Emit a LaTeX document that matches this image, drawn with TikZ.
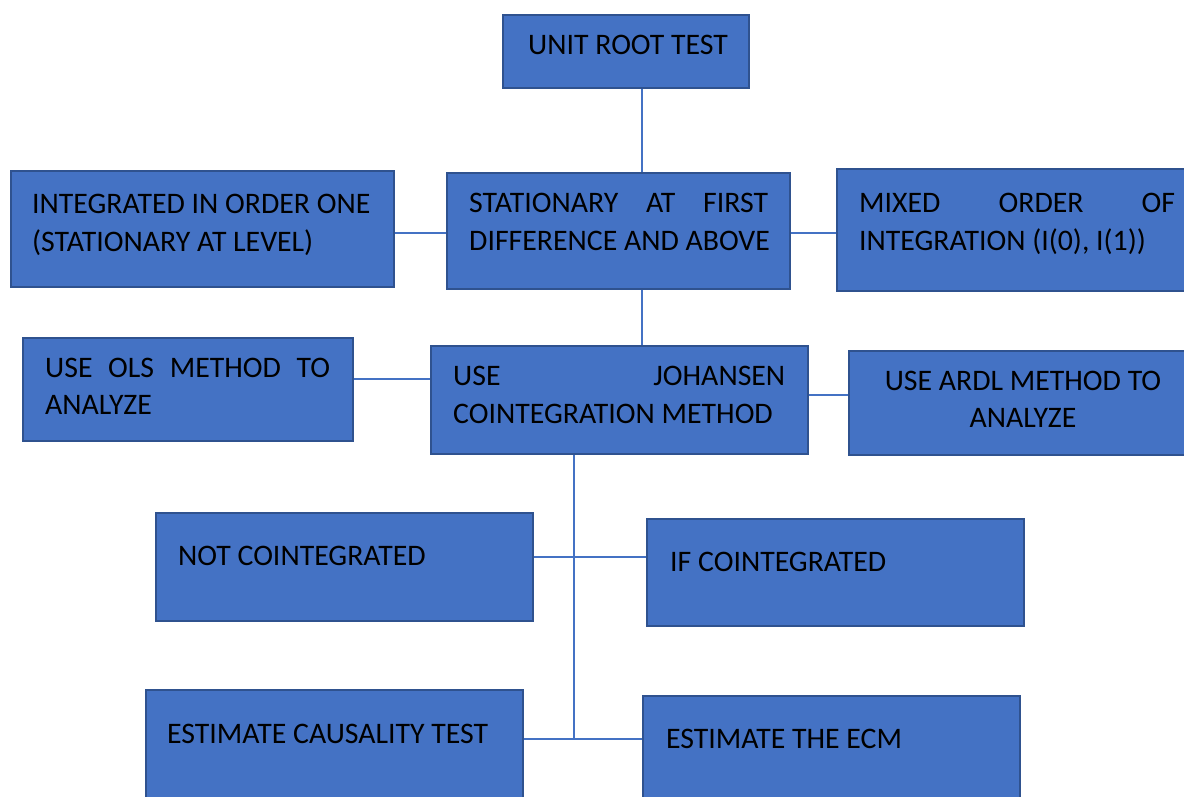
\documentclass[tikz,border=0pt]{standalone}
\usepackage{fontspec}
\setmainfont{Carlito}
\definecolor{boxfill}{HTML}{4472C4}
\definecolor{boxedge}{HTML}{2F528F}
\tikzset{
  box/.style={draw=boxedge, line width=2.2pt, fill=boxfill, inner sep=0pt, rectangle},
  conn/.style={draw=boxfill, line width=1.3pt},
  txt/.style={anchor=base west, inner sep=0pt, font=\fontsize{29.8}{38}\selectfont, text=black},
  ctxt/.style={txt, anchor=base},
}
\begin{document}
\begin{tikzpicture}[x=1pt,y=-1pt]
\useasboundingbox (0,0) rectangle (1184,796);
\clip (0,0) rectangle (1184,796);
% boxes
\node[box, minimum width=246pt, minimum height=73pt]  (root)  at (626,51.5) {};
\node[box, minimum width=343pt, minimum height=116pt] (stat)  at (618.5,231) {};
\node[box, minimum width=383pt, minimum height=116pt] (integ) at (202.5,229) {};
\node[box, minimum width=366pt, minimum height=122pt] (mixed) at (1020,230) {};
\node[box, minimum width=377pt, minimum height=108pt] (joh)   at (619.5,400) {};
\node[box, minimum width=330pt, minimum height=103pt] (ols)   at (188,389.5) {};
\node[box, minimum width=352pt, minimum height=104pt] (ardl)  at (1025,403) {};
\node[box, minimum width=377pt, minimum height=108pt] (notc)  at (344.5,567) {};
\node[box, minimum width=377pt, minimum height=107pt] (ifc)   at (835.5,572.5) {};
\node[box, minimum width=377pt, minimum height=110pt] (caus)  at (334.5,745) {};
\node[box, minimum width=377pt, minimum height=110pt] (ecm)   at (831.5,751) {};
% connectors
\draw[conn] ([xshift=16pt]root.south) -- ([xshift=16pt]root.south |- stat.north);
\draw[conn] ([xshift=23.5pt]stat.south) -- ([xshift=23.5pt]stat.south |- joh.north);
\draw[conn] ([yshift=-4pt]integ.east) -- ([yshift=-4pt]integ.east -| stat.west);
\draw[conn] ([yshift=-2pt]stat.east) -- ([yshift=-2pt]stat.east -| mixed.west);
\draw[conn] ([yshift=10.5pt]ols.east) -- ([yshift=10.5pt]ols.east -| joh.west);
\draw[conn] ([yshift=5pt]joh.east) -- ([yshift=5pt]joh.east -| ardl.west);
\coordinate (busend) at (574,739);
\draw[conn] ([xshift=-45.5pt]joh.south) -- (busend);
\draw[conn] ([yshift=10pt]notc.east) -- ([yshift=10pt]notc.east -| ifc.west);
\draw[conn] ([yshift=6pt]caus.east) -- ([yshift=6pt]caus.east -| ecm.west);
% texts
\node[txt] (troot) at (528,54) {UNIT ROOT TEST};
\node[txt] (tstat1) at (469,212) {\hbox to 299pt{STATIONARY\hfill AT\hfill FIRST}};
\node[txt] (tstat2) at (469,250) {DIFFERENCE AND ABOVE};
\node[txt] (tinteg1) at (32,213) {INTEGRATED IN ORDER ONE};
\node[txt] (tinteg2) at (32,251) {(STATIONARY AT LEVEL)};
\node[txt] (tmixed1) at (859,212) {\hbox to 316pt{MIXED\hfill ORDER\hfill OF}};
\node[txt] (tmixed2) at (859,250) {INTEGRATION (I(0), I(1))};
\node[txt] (tols1) at (45,377) {\hbox to 285pt{USE\hfill OLS\hfill METHOD\hfill TO}};
\node[txt] (tols2) at (45,414) {ANALYZE};
\node[txt] (tjoh1) at (453,385) {\hbox to 332pt{USE\hfill JOHANSEN}};
\node[txt] (tjoh2) at (453,423) {COINTEGRATION METHOD};
\node[ctxt] (tardl1) at (1023,390) {USE ARDL METHOD TO};
\node[ctxt] (tardl2) at (1023,427) {ANALYZE};
\node[txt] (tnotc) at (178,565) {NOT COINTEGRATED};
\node[txt] (tifc) at (670,571) {IF COINTEGRATED};
\node[txt] (tcaus) at (167,743) {ESTIMATE CAUSALITY TEST};
\node[txt] (tecm) at (666,748) {ESTIMATE THE ECM};
\end{tikzpicture}
\end{document}
